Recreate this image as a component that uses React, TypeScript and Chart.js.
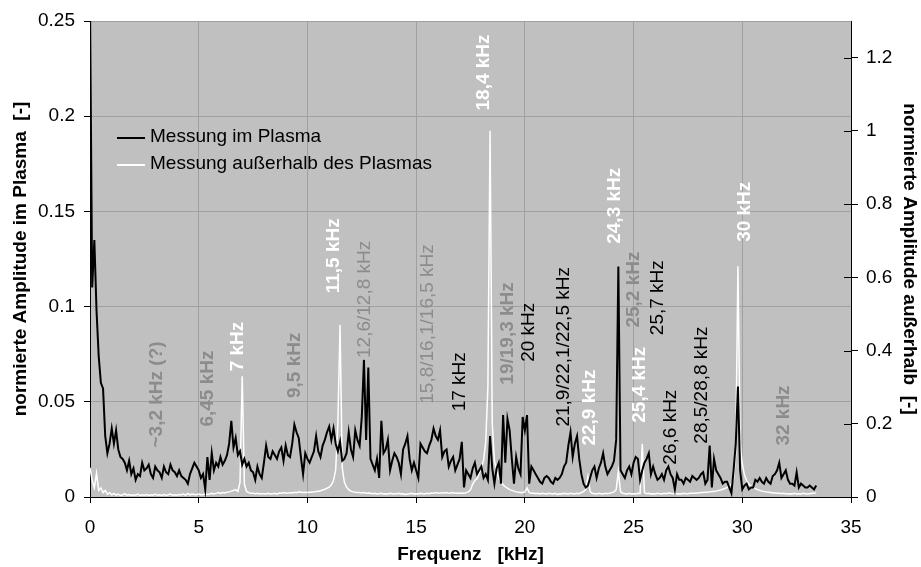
import React, { useEffect, useRef } from "react";
import { Chart, registerables } from "chart.js";

Chart.register(...registerables);

// Spectrum sampled every 0.1 kHz, starting at 0 kHz.
const FREQ_STEP_KHZ = 0.1;

// Normalised amplitude measured inside the plasma (left axis).
const plasmaAmplitude = [
  0.26, 0.11, 0.135, 0.098, 0.074, 0.06, 0.057, 0.032, 0.023, 0.028,
  0.036, 0.028, 0.035, 0.025, 0.021, 0.02, 0.018, 0.014, 0.019, 0.012,
  0.015, 0.009, 0.012, 0.011, 0.018, 0.014, 0.015, 0.017, 0.012, 0.01,
  0.016, 0.014, 0.013, 0.01, 0.016, 0.013, 0.012, 0.017, 0.014, 0.013,
  0.011, 0.014, 0.011, 0.01, 0.009, 0.007, 0.012, 0.015, 0.018, 0.016,
  0.014, 0.01, 0.012, 0.004, 0.021, 0.009, 0.023, 0.014, 0.018, 0.016,
  0.021, 0.017, 0.019, 0.022, 0.028, 0.04, 0.026, 0.031, 0.022, 0.024,
  0.017, 0.02, 0.016, 0.018, 0.014, 0.013, 0.009, 0.016, 0.012, 0.01,
  0.018, 0.027, 0.021, 0.02, 0.024, 0.022, 0.02, 0.024, 0.026, 0.019,
  0.027, 0.022, 0.021, 0.028, 0.038, 0.034, 0.031, 0.021, 0.012, 0.023,
  0.02, 0.018, 0.021, 0.024, 0.032, 0.024, 0.021, 0.027, 0.03, 0.034,
  0.037, 0.03, 0.036, 0.028, 0.024, 0.029, 0.019, 0.02, 0.023, 0.034,
  0.025, 0.021, 0.035, 0.03, 0.027, 0.042, 0.072, 0.03, 0.068, 0.02,
  0.017, 0.014, 0.02, 0.01, 0.04, 0.023, 0.025, 0.03, 0.014, 0.019,
  0.023, 0.021, 0.018, 0.012, 0.025, 0.028, 0.032, 0.02, 0.014, 0.018,
  0.014, 0.01, 0.028, 0.026, 0.024, 0.023, 0.027, 0.03, 0.036, 0.032,
  0.03, 0.035, 0.021, 0.024, 0.025, 0.016, 0.019, 0.021, 0.014, 0.017,
  0.02, 0.029, 0.005, 0.014, 0.012, 0.01, 0.015, 0.018, 0.012, 0.014,
  0.016, 0.01, 0.012, 0.009, 0.032, 0.015, 0.007, 0.015, 0.018, 0.007,
  0.043, 0.018, 0.041, 0.035, 0.02, 0.007, 0.021, 0.015, 0.012, 0.042,
  0.035, 0.043, 0.007, 0.016, 0.014, 0.012, 0.01, 0.008, 0.007, 0.01,
  0.011, 0.01, 0.008, 0.007, 0.01, 0.009, 0.01, 0.012, 0.016, 0.018,
  0.027, 0.034, 0.021, 0.028, 0.032, 0.02, 0.012, 0.007, 0.005, 0.006,
  0.01, 0.014, 0.016, 0.01, 0.015, 0.018, 0.023, 0.016, 0.012, 0.014,
  0.016, 0.019, 0.03, 0.121, 0.014, 0.012, 0.01, 0.014, 0.016, 0.012,
  0.018, 0.021, 0.02, 0.009, 0.014, 0.018, 0.02, 0.023, 0.012, 0.016,
  0.012, 0.009, 0.01, 0.012, 0.009, 0.014, 0.016, 0.012, 0.01, 0.004,
  0.012, 0.009, 0.009, 0.007, 0.01, 0.009, 0.008, 0.011, 0.01, 0.009,
  0.01, 0.012, 0.013, 0.007, 0.009, 0.027, 0.005, 0.02, 0.014, 0.012,
  0.01, 0.007, 0.008, 0.008, 0.005, 0.002, 0.014, 0.028, 0.058, 0.014,
  0.004, 0.006, 0.007, 0.004, 0.005, 0.005, 0.009, 0.008, 0.01, 0.008,
  0.007, 0.01, 0.008, 0.007, 0.011, 0.012, 0.014, 0.018, 0.01, 0.012,
  0.014, 0.009, 0.007, 0.007, 0.006, 0.013, 0.005, 0.007, 0.006, 0.005,
  0.005, 0.006, 0.005, 0.004, 0.006,
];

// Normalised amplitude measured outside the plasma (right axis).
const outsideAmplitude = [
  0.08, 0.045, 0.025, 0.065, 0.018, 0.025, 0.012, 0.018, 0.008, 0.012,
  0.006, 0.01, 0.005, 0.008, 0.004, 0.006, 0.009, 0.005, 0.007, 0.004,
  0.006, 0.005, 0.008, 0.004, 0.006, 0.005, 0.007, 0.004, 0.006, 0.005,
  0.008, 0.005, 0.006, 0.004, 0.007, 0.005, 0.006, 0.008, 0.005, 0.006,
  0.005, 0.007, 0.006, 0.008, 0.005, 0.01, 0.006, 0.008, 0.007, 0.006,
  0.008, 0.006, 0.007, 0.009, 0.007, 0.008, 0.01, 0.008, 0.01, 0.012,
  0.01, 0.012, 0.011, 0.013, 0.014, 0.016, 0.018, 0.02, 0.015, 0.04,
  0.33, 0.035, 0.015, 0.012, 0.01, 0.01, 0.009, 0.01, 0.008, 0.009,
  0.009, 0.008, 0.01, 0.008, 0.009, 0.01, 0.008, 0.011, 0.01, 0.012,
  0.011, 0.01, 0.012, 0.011, 0.013, 0.012, 0.014, 0.013, 0.012, 0.013,
  0.012, 0.013, 0.013, 0.014, 0.015, 0.016, 0.017, 0.019, 0.021, 0.024,
  0.027, 0.033, 0.045, 0.075, 0.2, 0.47, 0.08, 0.04, 0.027, 0.02,
  0.016, 0.014, 0.013, 0.012, 0.012, 0.011, 0.012, 0.01, 0.011, 0.01,
  0.009, 0.01, 0.008, 0.009, 0.01, 0.008, 0.009, 0.008, 0.01, 0.009,
  0.008, 0.009, 0.01, 0.008, 0.009, 0.007, 0.008, 0.009, 0.01, 0.008,
  0.009, 0.008, 0.01, 0.009, 0.008, 0.01, 0.009, 0.011, 0.01, 0.012,
  0.011, 0.01, 0.012, 0.011, 0.012, 0.01, 0.011, 0.012, 0.01, 0.011,
  0.01, 0.011, 0.01, 0.012, 0.014, 0.02, 0.035, 0.045, 0.05, 0.065,
  0.08, 0.1, 0.15, 0.3, 1.0, 0.2, 0.1, 0.07, 0.05, 0.04,
  0.033, 0.028, 0.024, 0.02, 0.018, 0.016, 0.014, 0.013, 0.012, 0.012,
  0.014, 0.025, 0.012, 0.01, 0.011, 0.009, 0.01, 0.008, 0.01, 0.009,
  0.008, 0.01, 0.009, 0.008, 0.01, 0.007, 0.009, 0.008, 0.01, 0.009,
  0.008, 0.01, 0.009, 0.008, 0.01, 0.009, 0.012, 0.015, 0.02, 0.055,
  0.015, 0.01, 0.009, 0.008, 0.01, 0.009, 0.008, 0.01, 0.009, 0.01,
  0.012, 0.014, 0.02, 0.07, 0.015, 0.01, 0.009, 0.008, 0.01, 0.008,
  0.009, 0.008, 0.01, 0.009, 0.145, 0.012, 0.009, 0.01, 0.008, 0.009,
  0.008, 0.01, 0.009, 0.008, 0.01, 0.009, 0.011, 0.01, 0.009, 0.01,
  0.008, 0.009, 0.008, 0.01, 0.009, 0.009, 0.01, 0.01, 0.01, 0.011,
  0.011, 0.012, 0.012, 0.013, 0.013, 0.014, 0.015, 0.015, 0.016, 0.018,
  0.019, 0.021, 0.023, 0.026, 0.03, 0.036, 0.05, 0.12, 0.63, 0.15,
  0.09, 0.06, 0.045, 0.035, 0.03, 0.026, 0.023, 0.02, 0.018, 0.016,
  0.015, 0.014, 0.013, 0.012, 0.011, 0.011, 0.01, 0.01, 0.009, 0.01,
  0.009, 0.008, 0.009, 0.008, 0.01, 0.008, 0.009, 0.008, 0.01, 0.009,
  0.008, 0.009, 0.01, 0.01, 0.012,
];

const frequencies = plasmaAmplitude.map((_, i) => Math.round(i * FREQ_STEP_KHZ * 10) / 10);

const seriesNames = ["Messung im Plasma", "Messung außerhalb des Plasmas"];

// Axis tick values
const freqTicks = [0, 5, 10, 15, 20, 25, 30, 35];
const plasmaTicks = [0, 0.05, 0.1, 0.15, 0.2, 0.25];
const outsideTicks = [0, 0.2, 0.4, 0.6, 0.8, 1, 1.2];

// Peak annotations: text, frequency of the text column, amplitude where the text starts
const peakTexts = [
  "~3,2 kHz (?)", "6,45 kHz", "7 kHz", "9,5 kHz", "11,5 kHz", "12,6/12,8 kHz",
  "15,8/16,1/16,5 kHz", "17 kHz", "18,4 kHz", "19/19,3 kHz", "20 kHz",
  "21,9/22,1/22,5 kHz", "22,9 kHz", "24,3 kHz", "25,2 kHz", "25,4 kHz",
  "25,7 kHz", "26,6 kHz", "28,5/28,8 kHz", "30 kHz", "32 kHz",
];
const peakTextFreqs = [
  3.08, 5.4, 6.78, 9.4, 11.2, 12.65, 15.55, 17.0, 18.1, 19.2, 20.2,
  21.77, 23.0, 24.15, 25.0, 25.3, 26.1, 26.7, 28.15, 30.13, 31.9,
];
const peakTextAmps = [
  0.026, 0.037, 0.066, 0.052, 0.107, 0.073, 0.049, 0.045, 0.203, 0.059, 0.071,
  0.037, 0.027, 0.133, 0.089, 0.039, 0.085, 0.017, 0.028, 0.134, 0.027,
];
// "w" = outside-only peak, "g" = uncertain peak, "b" = plasma peak
const peakTextKinds = [
  "g", "g", "w", "g", "w", "g", "g", "b", "w", "g", "b",
  "b", "w", "w", "g", "w", "b", "b", "b", "w", "g",
];
const peakTextBold = [
  true, true, true, true, true, false, false, false, true, true, false,
  false, true, true, true, true, false, false, false, true, true,
];

const FONT = "'Liberation Sans', Arial, Helvetica, sans-serif";
const PLOT_BG = "#c0c0c0";
const GRID = "#a0a0a0";
const KIND_COLORS: Record<string, string> = { w: "#ffffff", g: "#8c8c8c", b: "#000000" };

const fmt = (v: number) => String(+Number(v).toFixed(4));

const plotBackground = {
  id: "plotBackground",
  beforeDraw(chart: any) {
    const { ctx, chartArea } = chart;
    ctx.save();
    ctx.fillStyle = PLOT_BG;
    ctx.fillRect(chartArea.left, chartArea.top, chartArea.right - chartArea.left, chartArea.bottom - chartArea.top);
    ctx.restore();
  },
};

const innerRightTicks = {
  id: "innerRightTicks",
  afterDraw(chart: any) {
    const scale = chart.scales.y2;
    const { ctx, chartArea } = chart;
    ctx.save();
    ctx.strokeStyle = "#000";
    ctx.lineWidth = 1;
    scale.ticks.forEach((t: any) => {
      const y = Math.round(scale.getPixelForValue(t.value)) + 0.5;
      ctx.beginPath();
      ctx.moveTo(chartArea.right - 7, y);
      ctx.lineTo(chartArea.right, y);
      ctx.stroke();
    });
    ctx.restore();
  },
};

const peakLabels = {
  id: "peakLabels",
  afterDatasetsDraw(chart: any) {
    const { ctx } = chart;
    const xs = chart.scales.x;
    const ys = chart.scales.y;
    ctx.save();
    peakTexts.forEach((text, i) => {
      const px = xs.getPixelForValue(peakTextFreqs[i]);
      const py = ys.getPixelForValue(peakTextAmps[i]);
      ctx.save();
      ctx.translate(px, py);
      ctx.rotate(-Math.PI / 2);
      ctx.font = `${peakTextBold[i] ? "bold " : ""}19px ${FONT}`;
      ctx.fillStyle = KIND_COLORS[peakTextKinds[i]];
      ctx.textAlign = "left";
      ctx.textBaseline = "middle";
      ctx.fillText(text, 0, 0);
      ctx.restore();
    });
    ctx.restore();
  },
};

const lineLegend = {
  id: "lineLegend",
  afterDraw(chart: any) {
    const { ctx, chartArea } = chart;
    const x0 = chartArea.left + 27;
    const y0 = chartArea.top + 117;
    ctx.save();
    chart.data.datasets.forEach((ds: any, i: number) => {
      const y = y0 + i * 27;
      ctx.strokeStyle = ds.borderColor;
      ctx.lineWidth = 2;
      ctx.beginPath();
      ctx.moveTo(x0, y);
      ctx.lineTo(x0 + 28, y);
      ctx.stroke();
      ctx.fillStyle = "#000";
      ctx.font = `19px ${FONT}`;
      ctx.textAlign = "left";
      ctx.textBaseline = "middle";
      ctx.fillText(ds.label, x0 + 33, y - 1);
    });
    ctx.restore();
  },
};

const gridColor = (ctx: any) => (ctx.tick && ctx.tick.value === 0 ? "rgba(0,0,0,0)" : GRID);

export default function App() {
  const canvasRef = useRef<HTMLCanvasElement | null>(null);

  useEffect(() => {
    document.body.style.margin = "0";
    const canvas = canvasRef.current;
    if (!canvas) return;
    Chart.defaults.font.family = FONT;
    Chart.defaults.font.size = 19;
    Chart.defaults.color = "#000";

    const chart = new Chart(canvas, {
      type: "line",
      data: {
        datasets: [
          {
            label: seriesNames[0],
            data: frequencies.map((f, i) => ({ x: f, y: plasmaAmplitude[i] })),
            borderColor: "#000000",
            borderWidth: 2,
            pointRadius: 0,
            tension: 0,
            yAxisID: "y",
          },
          {
            label: seriesNames[1],
            data: frequencies.map((f, i) => ({ x: f, y: outsideAmplitude[i] })),
            borderColor: "#ffffff",
            borderWidth: 1.5,
            pointRadius: 0,
            tension: 0,
            yAxisID: "y2",
          },
        ],
      },
      options: {
        animation: false,
        responsive: false,
        devicePixelRatio: 1,
        layout: { padding: { top: 21, left: 0, right: 0, bottom: 0 } },
        plugins: {
          legend: { display: false },
          tooltip: { enabled: false },
        },
        scales: {
          x: {
            type: "linear",
            min: 0,
            max: 35,
            afterBuildTicks: (s: any) => {
              s.ticks = freqTicks.map((v) => ({ value: v }));
            },
            afterFit: (s: any) => {
              s.height = 70;
            },
            ticks: { callback: (v: any) => fmt(v), maxRotation: 0, autoSkip: false, padding: 13, color: "#000" },
            grid: {
              color: (c: any) => (c.tick && (c.tick.value === 0 || c.tick.value === 35) ? "rgba(0,0,0,0)" : GRID),
              tickColor: "#000",
              tickLength: 6,
              lineWidth: 1,
            },
            border: { color: "#000", width: 1 },
            title: {
              display: true,
              text: "Frequenz   [kHz]",
              font: { weight: "bold", size: 19 },
              padding: { top: 0, bottom: 1 },
              color: "#000",
            },
          },
          y: {
            type: "linear",
            position: "left",
            min: 0,
            max: 0.25,
            afterBuildTicks: (s: any) => {
              s.ticks = plasmaTicks.map((v) => ({ value: v }));
            },
            afterFit: (s: any) => {
              s.width = 90;
            },
            ticks: { callback: (v: any) => fmt(v), padding: 9, color: "#000" },
            grid: { color: gridColor, tickColor: "#000", tickLength: 6, lineWidth: 1 },
            border: { color: "#000", width: 1 },
            title: {
              display: true,
              text: "normierte Amplitude im Plasma  [-]",
              font: { weight: "bold", size: 19 },
              padding: { top: 9, bottom: 0 },
              color: "#000",
            },
          },
          y2: {
            type: "linear",
            position: "right",
            min: 0,
            max: 1.3,
            afterBuildTicks: (s: any) => {
              s.ticks = outsideTicks.map((v) => ({ value: v }));
            },
            afterFit: (s: any) => {
              s.width = 70;
            },
            ticks: { callback: (v: any) => fmt(v), padding: 8, color: "#000" },
            grid: { drawOnChartArea: false, tickColor: "#000", tickLength: 7, lineWidth: 1 },
            border: { color: "#000", width: 1 },
            title: {
              display: true,
              text: "normierte Amplitude außerhalb  [-]",
              font: { weight: "bold", size: 19 },
              padding: { top: 0, bottom: 0 },
              color: "#000",
            },
          },
        },
      },
      plugins: [plotBackground, peakLabels, innerRightTicks, lineLegend],
    } as any);

    return () => chart.destroy();
  }, []);

  return (
    <div style={{ width: 921, height: 567 }}>
      <canvas ref={canvasRef} width={921} height={567} style={{ display: "block" }} />
    </div>
  );
}
